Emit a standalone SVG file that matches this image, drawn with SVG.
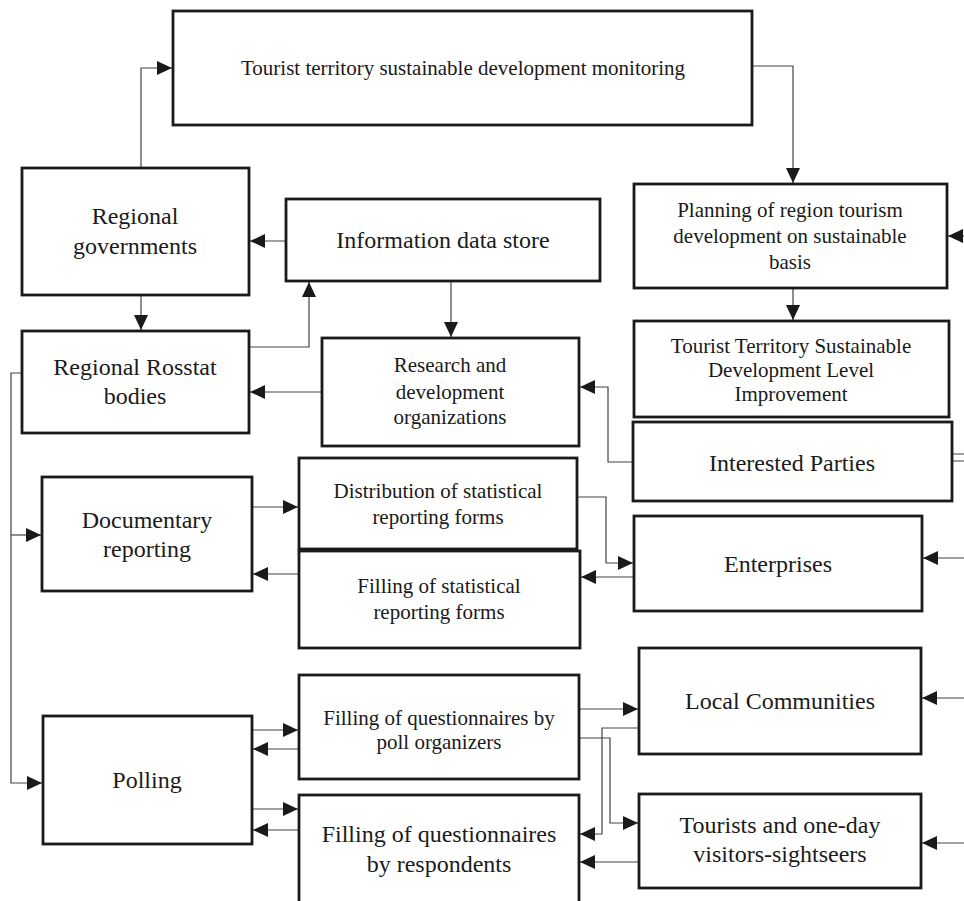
<svg xmlns="http://www.w3.org/2000/svg" width="964" height="901" viewBox="0 0 964 901">
<style>
.box{fill:#fff;stroke:#1a1a1a;stroke-width:2.8}
.t{font-family:"Liberation Serif","Times New Roman",serif;fill:#1a1a1a;text-anchor:middle}
.s{font-size:21px}
.l{font-size:24px}
.c{fill:none;stroke:#444;stroke-width:1.2}
</style>
<defs>
<marker id="ah" viewBox="0 0 15 14" refX="15" refY="7" markerWidth="15" markerHeight="14" markerUnits="userSpaceOnUse" orient="auto">
<path d="M0,0 L15,7 L0,14 Z" fill="#1a1a1a"/>
</marker>
</defs>
<rect width="964" height="901" fill="#fff"/>
<g id="connectors">
<path class="c" d="M141,188 V68 H172" marker-end="url(#ah)"/>
<path class="c" d="M752,66 H793 V183" marker-end="url(#ah)"/>
<path class="c" d="M793,288 V320" marker-end="url(#ah)"/>
<path class="c" d="M286,241 H250" marker-end="url(#ah)"/>
<path class="c" d="M964,236 H948" marker-end="url(#ah)"/>
<path class="c" d="M141,295 V330" marker-end="url(#ah)"/>
<path class="c" d="M249,347 H309 V282" marker-end="url(#ah)"/>
<path class="c" d="M451,281 V337" marker-end="url(#ah)"/>
<path class="c" d="M322,392 H250" marker-end="url(#ah)"/>
<path class="c" d="M633,462 H608 V387 H580" marker-end="url(#ah)"/>
<path class="c" d="M952,454 H964 M952,461 H964"/>
<path class="c" d="M964,558 H923" marker-end="url(#ah)"/>
<path class="c" d="M577,497 H606 V563 H633" marker-end="url(#ah)"/>
<path class="c" d="M634,577 H581" marker-end="url(#ah)"/>
<path class="c" d="M22,373 H11 V783 H42" marker-end="url(#ah)"/>
<path class="c" d="M11,535 H41" marker-end="url(#ah)"/>
<path class="c" d="M252,507 H298" marker-end="url(#ah)"/>
<path class="c" d="M299,574 H253" marker-end="url(#ah)"/>
<path class="c" d="M252,730 H298" marker-end="url(#ah)"/>
<path class="c" d="M299,749 H253" marker-end="url(#ah)"/>
<path class="c" d="M252,809 H298" marker-end="url(#ah)"/>
<path class="c" d="M299,830 H253" marker-end="url(#ah)"/>
<path class="c" d="M579,709 H638" marker-end="url(#ah)"/>
<path class="c" d="M579,738 H610 V823 H638" marker-end="url(#ah)"/>
<path class="c" d="M639,728 H602 V834 H580" marker-end="url(#ah)"/>
<path class="c" d="M639,862 H580" marker-end="url(#ah)"/>
<path class="c" d="M964,698 H922" marker-end="url(#ah)"/>
<path class="c" d="M964,843 H922" marker-end="url(#ah)"/>
</g>
<g id="monitoring">
<rect class="box" x="173" y="11" width="579" height="114"/>
<text class="t s" x="463" y="75">Tourist territory sustainable development monitoring</text>
</g>
<g id="regional-governments">
<rect class="box" x="22" y="168" width="227" height="127"/>
<text class="t l" x="135" y="224">Regional</text>
<text class="t l" x="135" y="254">governments</text>
</g>
<g id="information-data-store">
<rect class="box" x="286" y="199" width="314" height="82"/>
<text class="t l" x="443" y="248">Information data store</text>
</g>
<g id="planning">
<rect class="box" x="634" y="184" width="313" height="104"/>
<text class="t s" x="790" y="217">Planning of region tourism</text>
<text class="t s" x="790" y="243">development on sustainable</text>
<text class="t s" x="790" y="269">basis</text>
</g>
<g id="improvement">
<rect class="box" x="634" y="321" width="315" height="96"/>
<text class="t s" x="791" y="353">Tourist Territory Sustainable</text>
<text class="t s" x="791" y="377">Development Level</text>
<text class="t s" x="791" y="401">Improvement</text>
</g>
<g id="interested-parties">
<rect class="box" x="633" y="422" width="319" height="79"/>
<text class="t l" x="792" y="471">Interested Parties</text>
</g>
<g id="enterprises">
<rect class="box" x="634" y="516" width="288" height="95"/>
<text class="t l" x="778" y="572">Enterprises</text>
</g>
<g id="regional-rosstat">
<rect class="box" x="22" y="331" width="227" height="102"/>
<text class="t l" x="135" y="375">Regional Rosstat</text>
<text class="t l" x="135" y="404">bodies</text>
</g>
<g id="research">
<rect class="box" x="322" y="338" width="257" height="108"/>
<text class="t s" x="450" y="372">Research and</text>
<text class="t s" x="450" y="399">development</text>
<text class="t s" x="450" y="424">organizations</text>
</g>
<g id="documentary-reporting">
<rect class="box" x="42" y="477" width="210" height="114"/>
<text class="t l" x="147" y="528">Documentary</text>
<text class="t l" x="147" y="557">reporting</text>
</g>
<g id="distribution">
<rect class="box" x="299" y="458" width="278" height="91"/>
<text class="t s" x="438" y="498">Distribution of statistical</text>
<text class="t s" x="438" y="524">reporting forms</text>
</g>
<g id="filling-statistical">
<rect class="box" x="299" y="551" width="281" height="97"/>
<text class="t s" x="439" y="593">Filling of statistical</text>
<text class="t s" x="439" y="619">reporting forms</text>
</g>
<g id="polling">
<rect class="box" x="43" y="716" width="209" height="128"/>
<text class="t l" x="147" y="788">Polling</text>
</g>
<g id="poll-organizers">
<rect class="box" x="299" y="675" width="280" height="104"/>
<text class="t s" x="439" y="725">Filling of questionnaires by</text>
<text class="t s" x="439" y="749">poll organizers</text>
</g>
<g id="respondents">
<rect class="box" x="299" y="795" width="280" height="112"/>
<text class="t l" x="439" y="842">Filling of questionnaires</text>
<text class="t l" x="439" y="872">by respondents</text>
</g>
<g id="local-communities">
<rect class="box" x="639" y="648" width="282" height="106"/>
<text class="t l" x="780" y="709">Local Communities</text>
</g>
<g id="tourists">
<rect class="box" x="639" y="794" width="282" height="94"/>
<text class="t l" x="780" y="833">Tourists and one-day</text>
<text class="t l" x="780" y="862">visitors-sightseers</text>
</g>
</svg>
